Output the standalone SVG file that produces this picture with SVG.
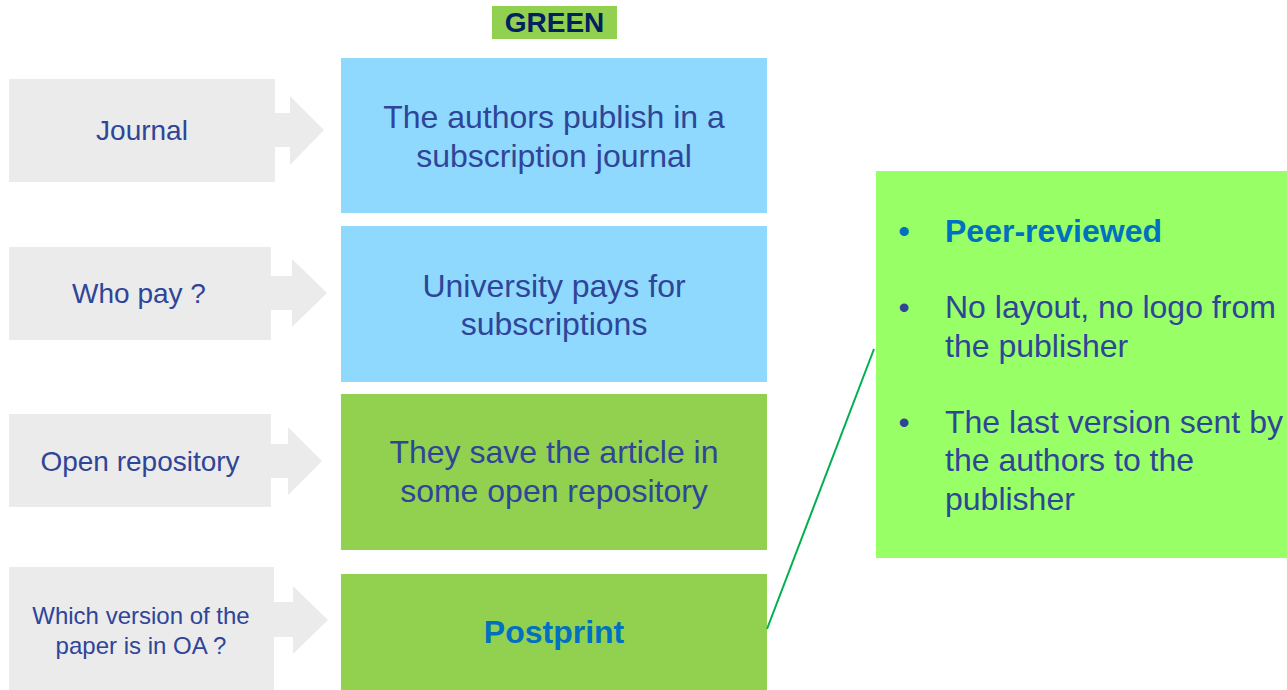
<svg xmlns="http://www.w3.org/2000/svg" width="1287" height="690" viewBox="0 0 1287 690">
<style>
.arrow{fill:#EBEBEB}
.blue{fill:#8FD9FE}
.green{fill:#92D050}
.lt{font-family:"Liberation Sans",Arial,sans-serif;font-size:28px;fill:#2E4598;text-anchor:middle}
.sm{font-size:24px}
.ct{font-family:"Liberation Sans",Arial,sans-serif;font-size:32px;fill:#2E4598;text-anchor:middle}
.rt{font-family:"Liberation Sans",Arial,sans-serif;font-size:32px;fill:#2E4598}
.bold{font-weight:bold;fill:#0070C0}
</style>
<rect width="1287" height="690" fill="#ffffff"/>
<g id="title">
<rect x="492" y="6" width="125" height="33" class="green"/>
<text x="554.5" y="32" font-family="'Liberation Sans',Arial,sans-serif" font-size="28" font-weight="bold" fill="#002060" text-anchor="middle">GREEN</text>
</g>
<g id="left-journal">
<path class="arrow" d="M9,79 H275 V113 H290 V96 L324,130 L290,165 V147 H275 V182 H9 Z"/>
<text x="142" y="140" class="lt">Journal</text>
</g>
<g id="left-whopay">
<path class="arrow" d="M9,247 H271 V276 H292 V259 L327,293 L292,327 V310 H271 V340 H9 Z"/>
<text x="139" y="303" class="lt">Who pay ?</text>
</g>
<g id="left-repo">
<path class="arrow" d="M9,414 H271 V444 H288 V427 L322,461 L288,495 V478 H271 V507 H9 Z"/>
<text x="140" y="471" class="lt">Open repository</text>
</g>
<g id="left-version">
<path class="arrow" d="M9,567 H274 V602 H293 V586 L328,620 L293,654 V637 H274 V690 H9 Z"/>
<text x="141" y="624" class="lt sm">Which version of the</text>
<text x="141" y="654" class="lt sm">paper is in OA ?</text>
</g>
<g id="box-journal">
<rect x="341" y="58" width="426" height="155" class="blue"/>
<text x="554" y="128" class="ct">The authors publish in a</text>
<text x="554" y="167" class="ct">subscription journal</text>
</g>
<g id="box-pay">
<rect x="341" y="226" width="426" height="156" class="blue"/>
<text x="554" y="297" class="ct">University pays for</text>
<text x="554" y="335" class="ct">subscriptions</text>
</g>
<g id="box-repo">
<rect x="341" y="394" width="426" height="156" class="green"/>
<text x="554" y="463" class="ct">They save the article in</text>
<text x="554" y="502" class="ct">some open repository</text>
</g>
<g id="box-postprint">
<rect x="341" y="574" width="426" height="116" class="green"/>
<text x="554" y="643" class="ct bold">Postprint</text>
</g>
<g id="connectors">
<line x1="767" y1="629" x2="874" y2="349" stroke="#00B050" stroke-width="2"/>
</g>
<g id="details">
<rect x="876" y="171" width="411" height="387" fill="#99FF66"/>
<text x="904" y="242" class="rt bold" text-anchor="middle">•</text>
<text x="945" y="242" class="rt bold">Peer-reviewed</text>
<text x="904" y="318" class="rt" text-anchor="middle">•</text>
<text x="945" y="318" class="rt">No layout, no logo from</text>
<text x="945" y="357" class="rt">the publisher</text>
<text x="904" y="433" class="rt" text-anchor="middle">•</text>
<text x="945" y="433" class="rt">The last version sent by</text>
<text x="945" y="471" class="rt">the authors to the</text>
<text x="945" y="510" class="rt">publisher</text>
</g>
</svg>
